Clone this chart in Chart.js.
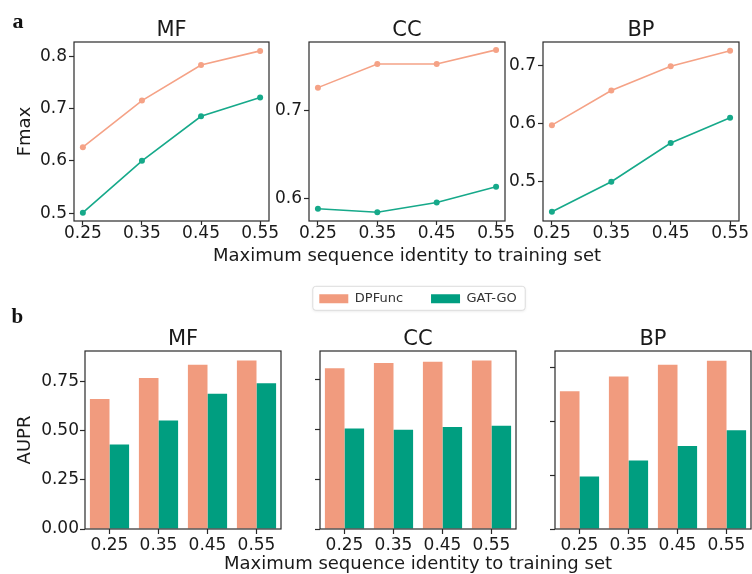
<!DOCTYPE html>
<html>
<head>
<meta charset="utf-8">
<script src="https://cdn.jsdelivr.net/npm/chart.js@4.4.1/dist/chart.umd.min.js"></script>
<style>
  html, body { margin: 0; padding: 0; background: #fff; }
  #figure { position: relative; width: 752px; height: 574px; overflow: hidden; }
  #figure canvas { position: absolute; left: 0; top: 0; }
</style>
</head>
<body>
<div id="figure">
  <canvas id="lineMF" width="752" height="574"></canvas>
  <canvas id="lineCC" width="752" height="574"></canvas>
  <canvas id="lineBP" width="752" height="574"></canvas>
  <canvas id="barMF" width="752" height="574"></canvas>
  <canvas id="barCC" width="752" height="574"></canvas>
  <canvas id="barBP" width="752" height="574"></canvas>
</div>
<script>
// #region Dados

var identities = [0.25, 0.35, 0.45, 0.55];
var identityLabels = ['0.25', '0.35', '0.45', '0.55'];
var seriesNames = ['DPFunc', 'GAT-GO'];

// a: Fmax
var fmaxDPFuncMF = [0.626, 0.715, 0.783, 0.810];
var fmaxGATGOMF = [0.501, 0.600, 0.685, 0.721];
var fmaxDPFuncCC = [0.726, 0.753, 0.753, 0.769];
var fmaxGATGOCC = [0.588, 0.584, 0.595, 0.613];
var fmaxDPFuncBP = [0.597, 0.657, 0.699, 0.726];
var fmaxGATGOBP = [0.447, 0.499, 0.566, 0.610];

// b: AUPR
var auprDPFuncMF = [0.662, 0.770, 0.837, 0.859];
var auprGATGOMF = [0.431, 0.553, 0.689, 0.743];
var auprDPFuncCC = [0.805, 0.832, 0.838, 0.845];
var auprGATGOCC = [0.504, 0.497, 0.511, 0.518];
var auprDPFuncBP = [0.513, 0.568, 0.612, 0.627];
var auprGATGOBP = [0.196, 0.255, 0.309, 0.368];

// tick labels
var fmaxTicksMF = [0.5, 0.6, 0.7, 0.8];
var fmaxTicksCC = [0.6, 0.7];
var fmaxTicksBP = [0.5, 0.6, 0.7];
var auprTicksMF = [0, 0.25, 0.5, 0.75];
var auprTicksCC = [0, 0.25, 0.5, 0.75];
var auprTicksBP = [0, 0.2, 0.4, 0.6];

// axis limits
var identityRange = [0.235, 0.565];
var fmaxRangeMF = [0.485, 0.827];
var fmaxRangeCC = [0.574, 0.778];
var fmaxRangeBP = [0.431, 0.741];
var auprRangeMF = [0, 0.907];
var auprRangeCC = [0, 0.892];
var auprRangeBP = [0, 0.663];

var xAxisTitle = 'Maximum sequence identity to training set';

// #endregion Dados

var TEXT = '#1a1a1a';
var FRAME = '#2a2a2a';
var LINE_COLORS = ['#F5A286', '#16A98A'];
var BAR_COLORS = ['#F19B7E', '#009E80'];
var FONT = '"DejaVu Sans", sans-serif';

Chart.defaults.font.family = FONT;
Chart.defaults.color = TEXT;
Chart.defaults.animation = false;

// #region Plugins

var framePlugin = {
    id: 'frame',
    afterDatasetsDraw: function (chart) {
        var a = chart.chartArea, ctx = chart.ctx;
        ctx.save();
        ctx.strokeStyle = FRAME;
        ctx.lineWidth = 1.2;
        ctx.strokeRect(a.left, a.top, a.right - a.left, a.bottom - a.top);
        ctx.restore();
    }
};

var panelTagPlugin = {
    id: 'panelTag',
    afterDraw: function (chart, args, opts) {
        if (!opts || !opts.text) return;
        var ctx = chart.ctx;
        ctx.save();
        ctx.font = 'bold ' + opts.size + 'px "Liberation Serif", serif';
        ctx.fillStyle = '#111';
        ctx.textBaseline = 'alphabetic';
        ctx.textAlign = 'left';
        ctx.fillText(opts.text, opts.x, opts.y);
        ctx.restore();
    }
};

var legendFramePlugin = {
    id: 'legendFrame',
    beforeDraw: function (chart) {
        if (!chart.options.plugins.legend.display) return;
        var boxes = chart.legend && chart.legend.legendHitBoxes;
        if (!boxes || !boxes.length) return;
        var l = Infinity, r = -Infinity, t = Infinity, b = -Infinity;
        boxes.forEach(function (h) {
            l = Math.min(l, h.left); r = Math.max(r, h.left + h.width);
            t = Math.min(t, h.top); b = Math.max(b, h.top + h.height);
        });
        var ctx = chart.ctx;
        ctx.save();
        ctx.shadowColor = 'rgba(0,0,0,0.10)';
        ctx.shadowBlur = 3;
        ctx.shadowOffsetY = 1;
        ctx.beginPath();
        ctx.roundRect(l - 6.5, t - 6, r - l + 15, b - t + 11, 3);
        ctx.fillStyle = '#fff';
        ctx.fill();
        ctx.shadowColor = 'transparent';
        ctx.strokeStyle = '#dcdcdc';
        ctx.lineWidth = 1;
        ctx.stroke();
        ctx.restore();
    }
};

// #endregion Plugins

// #region Construtores

function tickGrid(len) {
    return { drawOnChartArea: false, drawTicks: true, tickLength: len, tickColor: FRAME, tickWidth: 1.2 };
}

function titleOpts(text) {
    return {
        display: true, text: text, fullSize: false, color: TEXT,
        font: { size: 21, weight: 'normal', lineHeight: 1.1 },
        padding: { top: 0, bottom: 0 }
    };
}

function captionOpts(text) {
    return {
        display: !!text, text: text || '', position: 'bottom', fullSize: true, color: TEXT,
        font: { size: 18, weight: 'normal', lineHeight: 1.2 },
        padding: 0
    };
}

function fixedTicks(values) {
    return function (scale) {
        scale.ticks = values.map(function (v) { return { value: v }; });
    };
}

function fixedWidth(w) {
    return w !== undefined ? function (s) { s.width = w; } : undefined;
}

// empty axis on the right, so that full-width boxes (legend, caption) stay centred on the plot
function spacerAxis(w) {
    return {
        type: 'linear', position: 'right', display: true,
        afterFit: fixedWidth(w),
        ticks: { display: false }, grid: { display: false }, border: { display: false }
    };
}

function lineSeries(i, values) {
    return {
        label: seriesNames[i],
        data: identities.map(function (x, k) { return { x: x, y: values[k] }; }),
        borderColor: LINE_COLORS[i],
        backgroundColor: LINE_COLORS[i],
        pointBackgroundColor: LINE_COLORS[i],
        pointRadius: 3,
        pointBorderWidth: 0,
        borderWidth: 1.6,
        tension: 0
    };
}

function barSeries(i, values) {
    return {
        label: seriesNames[i],
        data: values,
        backgroundColor: BAR_COLORS[i],
        borderWidth: 0,
        categoryPercentage: 0.8,
        barPercentage: 1.0
    };
}

function lineConfig(title, dp, gat, yRange, yTicks, extra) {
    var scales = {
        x: {
            type: 'linear', min: identityRange[0], max: identityRange[1],
            afterBuildTicks: fixedTicks(identities),
            afterFit: function (s) { s.height = 24.2; },
            ticks: {
                font: { size: 17 }, color: TEXT, padding: -2, maxRotation: 0, autoSkip: false,
                callback: function (v) { return v.toFixed(2); }
            },
            grid: tickGrid(4),
            border: { display: false }
        },
        y: {
            min: yRange[0], max: yRange[1],
            afterBuildTicks: fixedTicks(yTicks),
            afterFit: fixedWidth(extra.yWidth),
            ticks: {
                font: { size: 17 }, color: TEXT, padding: 2,
                callback: function (v) { return v.toFixed(1); }
            },
            grid: tickGrid(5),
            border: { display: false },
            title: {
                display: !!extra.yTitle, text: extra.yTitle || '', color: TEXT,
                font: { size: 18 }, padding: 0
            }
        }
    };
    if (extra.side) scales.y2 = spacerAxis(extra.side);

    return {
        type: 'line',
        data: { datasets: [lineSeries(0, dp), lineSeries(1, gat)] },
        options: {
            responsive: false,
            devicePixelRatio: 1,
            layout: { padding: { left: 0, right: 0, top: 0, bottom: 0 } },
            plugins: {
                legend: { display: false },
                tooltip: { enabled: false },
                title: titleOpts(title),
                subtitle: captionOpts(extra.xTitle),
                panelTag: extra.tag || {}
            },
            scales: scales
        },
        plugins: [framePlugin, panelTagPlugin]
    };
}

function barConfig(title, dp, gat, yRange, yTicks, extra) {
    var scales = {
        x: {
            type: 'category', offset: true,
            afterFit: function (s) { s.height = 24.5; },
            ticks: { font: { size: 17 }, color: TEXT, padding: 1.3, maxRotation: 0, autoSkip: false },
            grid: Object.assign(tickGrid(5), { offset: false }),
            border: { display: false }
        },
        y: {
            min: yRange[0], max: yRange[1],
            afterBuildTicks: fixedTicks(yTicks),
            afterFit: fixedWidth(extra.yWidth),
            ticks: {
                font: { size: 17 }, color: TEXT, padding: 1,
                callback: extra.yLabels ? function (v) { return v.toFixed(2); } : function () { return ''; }
            },
            grid: tickGrid(5),
            border: { display: false },
            title: {
                display: !!extra.yTitle, text: extra.yTitle || '', color: TEXT,
                font: { size: 18 }, padding: 0
            }
        }
    };
    if (extra.side) scales.y2 = spacerAxis(extra.side);

    return {
        type: 'bar',
        data: { labels: identityLabels, datasets: [barSeries(0, dp), barSeries(1, gat)] },
        options: {
            responsive: false,
            devicePixelRatio: 1,
            layout: { padding: { left: 0, right: 0, top: 0, bottom: 0 } },
            plugins: {
                legend: {
                    display: !!extra.legend, position: 'top', weight: 3000,
                    labels: { boxWidth: 29, boxHeight: 9, padding: 28, color: '#333', font: { size: 13 } }
                },
                tooltip: { enabled: false },
                title: Object.assign(titleOpts(title), extra.legend ? { padding: { top: 12.6, bottom: 0 } } : {}),
                subtitle: captionOpts(extra.xTitle),
                panelTag: extra.tag || {}
            },
            scales: scales
        },
        plugins: [legendFramePlugin, framePlugin, panelTagPlugin]
    };
}

// places the chart so that its plot area lands on the given box
function makeChart(id, config, area) {
    var chart = new Chart(document.getElementById(id), config);
    var pad = { left: 0, right: 0, top: 0, bottom: 0 };
    for (var i = 0; i < 4; i++) {
        var a = chart.chartArea;
        pad.left += area.left - a.left;
        pad.right += a.right - area.right;
        pad.top += area.top - a.top;
        pad.bottom += a.bottom - area.bottom;
        chart.options.layout.padding = { left: pad.left, right: pad.right, top: pad.top, bottom: pad.bottom };
        chart.update('none');
    }
    return chart;
}

// #endregion Construtores

// #region Inicialização

makeChart('lineMF', lineConfig('MF', fmaxDPFuncMF, fmaxGATGOMF, fmaxRangeMF, fmaxTicksMF,
    { yTitle: 'Fmax', yWidth: 59.8, tag: { text: 'a', x: 12.5, y: 28.3, size: 22 } }),
    { left: 74, right: 269, top: 42, bottom: 221 });
makeChart('lineCC', lineConfig('CC', fmaxDPFuncCC, fmaxGATGOCC, fmaxRangeCC, fmaxTicksCC,
    { xTitle: xAxisTitle, yWidth: 110, side: 110 }),
    { left: 309, right: 505, top: 42, bottom: 221 });
makeChart('lineBP', lineConfig('BP', fmaxDPFuncBP, fmaxGATGOBP, fmaxRangeBP, fmaxTicksBP, {}),
    { left: 543, right: 739, top: 42, bottom: 221 });

makeChart('barMF', barConfig('MF', auprDPFuncMF, auprGATGOMF, auprRangeMF, auprTicksMF,
    { yTitle: 'AUPR', yWidth: 70.8, yLabels: true, tag: { text: 'b', x: 11.5, y: 323.3, size: 21 } }),
    { left: 85, right: 281, top: 351, bottom: 529 });
makeChart('barCC', barConfig('CC', auprDPFuncCC, auprGATGOCC, auprRangeCC, auprTicksCC,
    { xTitle: xAxisTitle, legend: true, yWidth: 110, side: 110 }),
    { left: 320, right: 516, top: 351, bottom: 529 });
makeChart('barBP', barConfig('BP', auprDPFuncBP, auprGATGOBP, auprRangeBP, auprTicksBP, {}),
    { left: 555, right: 751, top: 351, bottom: 529 });

// #endregion Inicialização
</script>
</body>
</html>
